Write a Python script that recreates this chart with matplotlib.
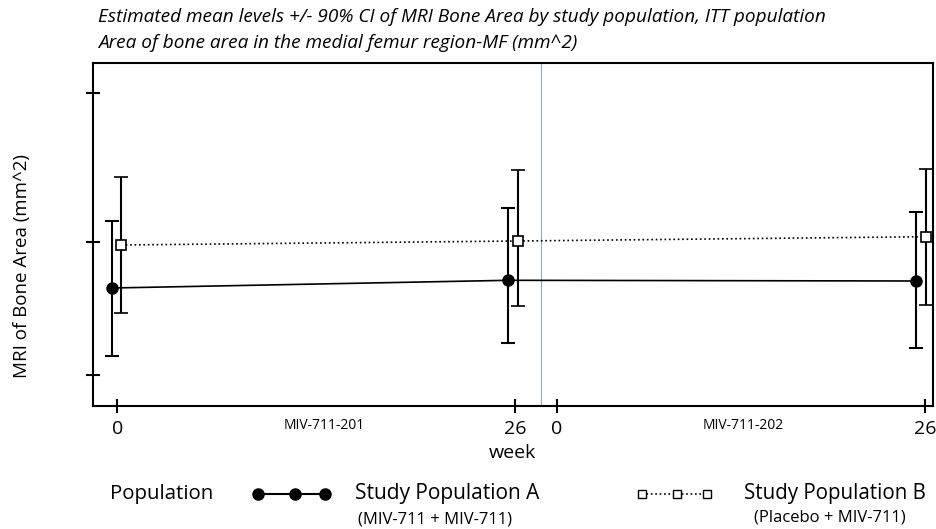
import numpy as np
import matplotlib
matplotlib.use("Agg")
from matplotlib import pyplot as plt
from matplotlib.lines import Line2D

# axis positions of the visits (study 201: weeks 0, 26; study 202: weeks 0, 26)
visit_pos = [0, 26, 52.8]
tick_pos = [0, 26, 28.7, 52.8]
tick_labels = ["0", "26", "0", "26"]
study_labels = ["MIV-711-201", "MIV-711-202"]
study_label_pos = [13.5, 40.9]
split_pos = 27.65

# estimated mean and 90% CI (arbitrary units)
popA_mean = [118, 125.7, 125]
popA_low = [50, 63, 58.3]
popA_high = [185.3, 198.3, 194]
popB_mean = [161, 165, 169.3]
popB_low = [93.3, 100.3, 101]
popB_high = [229, 236, 236.7]
y_ticks = [31.3, 164.3, 313.3]

fig = plt.figure(figsize=(9.37, 5.29), dpi=100)
ax = fig.add_axes([93 / 937, 1 - 406 / 529, 840 / 937, 343 / 529])

xa = np.array(visit_pos) - np.array([0.35, 0.45, 0.6])
xb = np.array(visit_pos) + np.array([0.25, 0.2, 0.07])

ma, mb = np.array(popA_mean), np.array(popB_mean)
ax.errorbar(xa, ma, yerr=[ma - np.array(popA_low), np.array(popA_high) - ma],
            fmt="o", color="black", ms=8, elinewidth=1.5, capsize=5, capthick=1.5, zorder=3)
ax.plot(xa, ma, "-", color="black", lw=1.2, zorder=2)
ax.errorbar(xb, mb, yerr=[mb - np.array(popB_low), np.array(popB_high) - mb],
            fmt="s", mfc="white", mec="black", color="black", ms=7, mew=1.2,
            elinewidth=1.5, capsize=5, capthick=1.5, zorder=3)
ax.plot(xb, mb, ":", color="black", lw=1.2, zorder=2)

ax.axvline(split_pos, color="#5b9bd5", lw=0.8, alpha=0.8, zorder=1)

ax.set_xlim(-1.6, 53.3)
ax.set_ylim(0, 343)
ax.set_xticks(tick_pos)
ax.set_xticklabels(tick_labels, fontsize=14, family="Open Sans")
ax.set_yticks(y_ticks)
ax.set_yticklabels([])
ax.tick_params(direction="inout", length=10, width=1.5)
ax.tick_params(axis="x", pad=5)
for s in ax.spines.values():
    s.set_linewidth(1.5)

for lab, p in zip(study_labels, study_label_pos):
    ax.text(p, -12, lab, ha="center", va="top", fontsize=10, family="Open Sans")
ax.text(25.8, -38, "week", ha="center", va="top", fontsize=14, family="Open Sans")

fig.text(22 / 937, 1 - 266 / 529, "MRI of Bone Area (mm^2)", fontsize=13.5, family="Open Sans",
         rotation=90, ha="center", va="center")

fig.text(98 / 937, 1 - 17 / 529, "Estimated mean levels +/- 90% CI of MRI Bone Area by study population, ITT population",
         fontsize=13.7, style="italic", family="Open Sans", va="center")
fig.text(98 / 937, 1 - 43 / 529, "Area of bone area in the medial femur region-MF (mm^2)",
         fontsize=13.7, style="italic", family="Open Sans", va="center")

# legend drawn by hand below the axes
ly = 1 - 494 / 529
fig.text(110 / 937, ly, "Population", fontsize=14.7, family="Open Sans", va="center")
fig.add_artist(Line2D([258 / 937, 295 / 937, 325 / 937], [ly] * 3, transform=fig.transFigure,
                      color="black", lw=1.5, marker="o", ms=8))
fig.text(355 / 937, ly, "Study Population A", fontsize=15, family="Open Sans", va="center")
fig.text(435 / 937, 1 - 519 / 529, "(MIV-711 + MIV-711)", fontsize=12, family="Open Sans",
         va="center", ha="center")
fig.add_artist(Line2D([642 / 937, 677 / 937, 707 / 937], [ly] * 3, transform=fig.transFigure,
                      color="black", lw=1.2, ls=":", marker="s", ms=6, mfc="white", mec="black"))
fig.text(744 / 937, ly, "Study Population B", fontsize=14.8, family="Open Sans", va="center")
fig.text(830 / 937, 1 - 518 / 529, "(Placebo + MIV-711)", fontsize=12, family="Open Sans",
         va="center", ha="center")

fig.savefig("out.png", dpi=100)
